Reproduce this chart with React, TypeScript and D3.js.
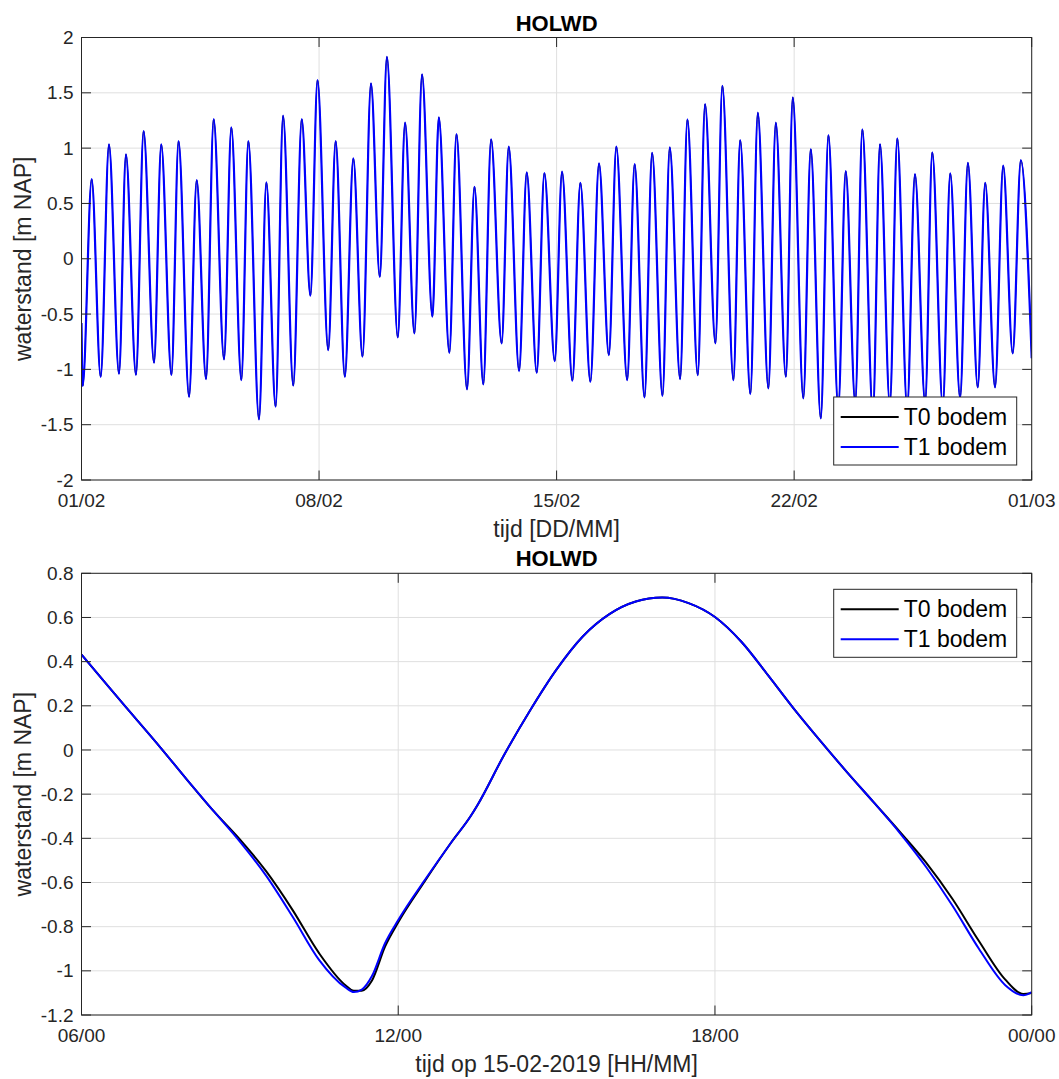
import * as d3 from "d3";
import React from "react";

// bovenste figuur: hoog- en laagwaters HOLWD, dagen na 01/02 00:00 (m NAP)
const topDays = [
  0.0, 0.035, 0.3, 0.565, 0.81, 1.105, 1.31, 1.605, 1.83, 2.137, 2.35, 2.65,
  2.86, 3.17, 3.395, 3.67, 3.895, 4.2, 4.415, 4.71, 4.917, 5.23, 5.448, 5.72,
  5.94, 6.24, 6.49, 6.745, 6.955, 7.27, 7.49, 7.76, 8.01, 8.28, 8.53, 8.79,
  9.0, 9.32, 9.535, 9.81, 10.035, 10.34, 10.53, 10.84, 11.05, 11.36, 11.58,
  11.84, 12.07, 12.38, 12.59, 12.895, 13.12, 13.415, 13.64, 13.945, 14.16,
  14.465, 14.7, 14.995, 15.25, 15.54, 15.76, 16.08, 16.3, 16.59, 16.815, 17.12,
  17.335, 17.64, 17.855, 18.16, 18.375, 18.68, 18.885, 19.21, 19.41, 19.71,
  19.93, 20.24, 20.46, 20.755, 20.96, 21.27, 21.49, 21.785, 22.01, 22.3, 22.52,
  22.8, 23.01, 23.32, 23.53, 23.82, 24.04, 24.33, 24.56, 24.86, 25.07, 25.38,
  25.6, 25.89, 26.12, 26.41, 26.63, 26.92, 27.16, 27.44, 27.68, 28.0,
];
const topT1 = [
  -0.58, -1.15, 0.72, -1.067, 1.034, -1.04, 0.944, -1.05, 1.155, -0.94, 1.034,
  -1.05, 1.064, -1.248, 0.712, -1.088, 1.263, -0.91, 1.188, -1.097, 1.064,
  -1.452, 0.69, -1.338, 1.293, -1.148, 1.263, -0.334, 1.616, -0.826, 1.064,
  -1.067, 0.907, -0.886, 1.586, -0.163, 1.826, -0.711, 1.23, -0.675, 1.667,
  -0.524, 1.278, -0.85, 1.127, -1.181, 0.651, -1.136, 1.08, -0.765, 1.013,
  -1.015, 0.781, -1.031, 0.775, -0.925, 0.787, -1.103, 0.687, -1.112, 0.862,
  -0.871, 1.013, -1.097, 0.856, -1.253, 0.958, -1.239, 1.007, -1.088, 1.26,
  -1.052, 1.399, -0.765, 1.564, -1.097, 1.073, -1.223, 1.32, -1.172, 1.23,
  -1.067, 1.459, -1.262, 0.992, -1.443, 1.118, -1.35, 0.793, -1.3, 1.17, -1.4,
  1.037, -1.32, 1.088, -1.35, 0.766, -1.3, 0.962, -1.33, 0.772, -1.26, 0.868,
  -1.163, 0.687, -1.163, 0.841, -0.855, 0.892, -0.9,
];
// T0 valt op deze schaal samen met T1
const topT0 = topT1;
const topYTicks = [-2, -1.5, -1, -0.5, 0, 0.5, 1, 1.5, 2];
const topXTicks = [0, 7, 14, 21, 28];

// onderste figuur: 15-02-2019, uren
const bottomHours = [
  6, 6.5, 7, 7.5, 8, 8.5, 9, 9.5, 10, 10.5, 11, 11.16, 11.31, 11.5, 11.75, 12,
  12.5, 13, 13.37, 13.5, 14, 14.5, 15, 15.5, 16, 16.5, 17, 17.5, 18, 18.5, 19,
  19.5, 20, 20.5, 21, 21.5, 22, 22.5, 23, 23.5, 23.84, 24,
];
const bottomT0 = [
  0.432, 0.29, 0.15, 0.01, -0.135, -0.276, -0.405, -0.55, -0.725, -0.92,
  -1.065, -1.09, -1.09, -1.045, -0.89, -0.78, -0.595, -0.42, -0.3, -0.25,
  -0.025, 0.18, 0.365, 0.515, 0.615, 0.672, 0.69, 0.665, 0.602, 0.49, 0.34,
  0.185, 0.04, -0.1, -0.235, -0.37, -0.51, -0.675, -0.865, -1.04, -1.105, -1.1,
];
const bottomT1 = [
  0.432, 0.29, 0.15, 0.01, -0.135, -0.276, -0.415, -0.57, -0.755, -0.95,
  -1.075, -1.096, -1.085, -1.025, -0.875, -0.77, -0.59, -0.42, -0.3, -0.25,
  -0.025, 0.18, 0.365, 0.515, 0.615, 0.672, 0.69, 0.665, 0.602, 0.49, 0.34,
  0.185, 0.04, -0.1, -0.235, -0.375, -0.53, -0.705, -0.9, -1.065, -1.111,
  -1.096,
];
const bottomYTicks = [-1.2, -1, -0.8, -0.6, -0.4, -0.2, 0, 0.2, 0.4, 0.6, 0.8];
const bottomXTicks = [6, 12, 18, 24];

const seriesNames = ["T0 bodem", "T1 bodem"];
const seriesColors = ["#000000", "#0000ff"];

const DAY = 864e5;
const HOUR = 36e5;
const feb1 = Date.UTC(2019, 1, 1);
const feb15 = Date.UTC(2019, 1, 15);

const FONT = "'Liberation Sans', Arial, Helvetica, sans-serif";
const AXIS = "#262626";
const GRID = "#dfdfdf";

const Panel = (props) => {
  const {
    id,
    x,
    y,
    xTicks,
    xFormat,
    yTicks,
    series,
    widths,
    xLabel,
    legendTop,
  } = props;
  const [left, right] = x.range();
  const [bottom, top] = y.range();
  const tick = 9.5;
  const line = d3
    .line()
    .x((d) => x(d[0]))
    .y((d) => y(d[1]))
    .curve(d3.curveMonotoneX);

  const legW = 183;
  const legH = 68;
  const legX = right - 15 - legW;
  const legY = legendTop ? top + 16 : bottom - 15 - legH;

  return (
    <g>
      <clipPath id={id}>
        <rect x={left} y={top} width={right - left} height={bottom - top} />
      </clipPath>
      <rect
        x={left}
        y={top}
        width={right - left}
        height={bottom - top}
        fill="#fff"
      />
      {/* raster */}
      {yTicks.map((v, i) => (
        <line
          key={"gy" + i}
          x1={left}
          x2={right}
          y1={y(v)}
          y2={y(v)}
          stroke={GRID}
          strokeWidth={1}
        />
      ))}
      {xTicks.map((t, i) => (
        <line
          key={"gx" + i}
          x1={x(t)}
          x2={x(t)}
          y1={top}
          y2={bottom}
          stroke={GRID}
          strokeWidth={1}
        />
      ))}
      {/* lijnen */}
      <g clipPath={`url(#${id})`}>
        {series.map((s, i) => (
          <path
            key={i}
            d={line(s)}
            fill="none"
            stroke={seriesColors[i]}
            strokeWidth={widths[i]}
            strokeLinejoin="round"
          />
        ))}
      </g>
      {/* assen */}
      <rect
        x={left}
        y={top}
        width={right - left}
        height={bottom - top}
        fill="none"
        stroke={AXIS}
        strokeWidth={1}
      />
      {yTicks.map((v, i) => (
        <g key={"ty" + i}>
          <line x1={left} x2={left + tick} y1={y(v)} y2={y(v)} stroke={AXIS} />
          <line
            x1={right}
            x2={right - tick}
            y1={y(v)}
            y2={y(v)}
            stroke={AXIS}
          />
          <text
            x={left - 8}
            y={y(v)}
            dy="0.35em"
            textAnchor="end"
            fontSize={19}
            fill={AXIS}
          >
            {String(v)}
          </text>
        </g>
      ))}
      {xTicks.map((t, i) => (
        <g key={"tx" + i}>
          <line
            x1={x(t)}
            x2={x(t)}
            y1={bottom}
            y2={bottom - tick}
            stroke={AXIS}
          />
          <line x1={x(t)} x2={x(t)} y1={top} y2={top + tick} stroke={AXIS} />
          <text
            x={x(t)}
            y={bottom + 27}
            textAnchor="middle"
            fontSize={19}
            fill={AXIS}
          >
            {xFormat(t)}
          </text>
        </g>
      ))}
      <text
        x={(left + right) / 2}
        y={top - 7}
        textAnchor="middle"
        fontSize={22}
        fontWeight="bold"
        fill="#000"
      >
        HOLWD
      </text>
      <text
        x={(left + right) / 2}
        y={bottom + 57}
        textAnchor="middle"
        fontSize={23}
        fill={AXIS}
      >
        {xLabel}
      </text>
      <text
        transform={`translate(31, ${(top + bottom) / 2}) rotate(-90)`}
        textAnchor="middle"
        fontSize={23}
        fill={AXIS}
      >
        waterstand [m NAP]
      </text>
      {/* legenda */}
      <rect
        x={legX}
        y={legY}
        width={legW}
        height={legH}
        fill="#fff"
        stroke={AXIS}
        strokeWidth={1}
      />
      {seriesNames.map((name, i) => (
        <g key={name}>
          <line
            x1={legX + 7}
            x2={legX + 65}
            y1={legY + 20 + i * 30}
            y2={legY + 20 + i * 30}
            stroke={seriesColors[i]}
            strokeWidth={2}
          />
          <text
            x={legX + 70}
            y={legY + 20 + i * 30}
            dy="0.35em"
            fontSize={23}
            fill="#000"
          >
            {name}
          </text>
        </g>
      ))}
    </g>
  );
};

export default function App() {
  const left = 81.5;
  const right = 1031.7;

  const xTop = d3
    .scaleUtc()
    .domain([new Date(feb1), new Date(feb1 + 28 * DAY)])
    .range([left, right]);
  const yTop = d3.scaleLinear().domain([-2, 2]).range([480, 37.5]);

  const xBottom = d3
    .scaleUtc()
    .domain([new Date(feb15 + 6 * HOUR), new Date(feb15 + 24 * HOUR)])
    .range([left, right]);
  const yBottom = d3.scaleLinear().domain([-1.2, 0.8]).range([1015, 573.3]);

  const dayDate = (d) => new Date(feb1 + d * DAY);
  const hourDate = (h) => new Date(feb15 + h * HOUR);
  const fmtDay = d3.utcFormat("%d/%m");
  const fmtHour = d3.utcFormat("%H/%M");

  const topSeries = [topT0, topT1].map((vals) =>
    vals.map((v, i) => [dayDate(topDays[i]), v])
  );
  const bottomSeries = [bottomT0, bottomT1].map((vals) =>
    vals.map((v, i) => [hourDate(bottomHours[i]), v])
  );

  return (
    <svg
      width={1059}
      height={1079}
      style={{ position: "absolute", left: 0, top: 0, background: "#fff" }}
      fontFamily={FONT}
    >
      <Panel
        id="clipTop"
        x={xTop}
        y={yTop}
        xTicks={topXTicks.map(dayDate)}
        xFormat={fmtDay}
        yTicks={topYTicks}
        series={topSeries}
        widths={[1, 2.2]}
        xLabel="tijd [DD/MM]"
        legendTop={false}
      />
      <Panel
        id="clipBottom"
        x={xBottom}
        y={yBottom}
        xTicks={bottomXTicks.map(hourDate)}
        xFormat={fmtHour}
        yTicks={bottomYTicks}
        series={bottomSeries}
        widths={[2, 2]}
        xLabel="tijd op 15-02-2019 [HH/MM]"
        legendTop={true}
      />
    </svg>
  );
}
